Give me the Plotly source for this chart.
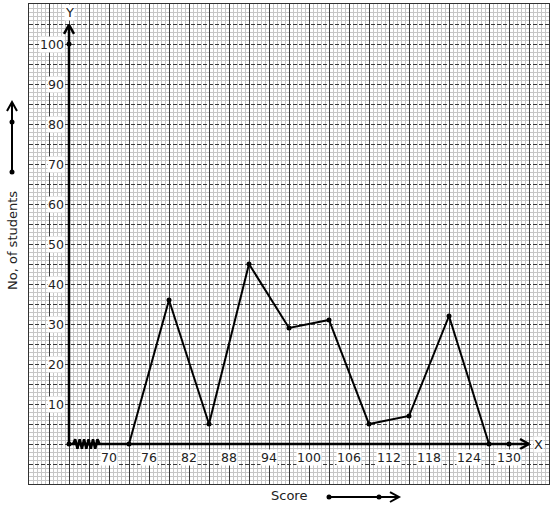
import plotly.graph_objects as go

# ---------------- data ----------------
scores = [73, 79, 85, 91, 97, 103, 109, 115, 121, 127]
students = [0, 36, 5, 45, 29, 31, 5, 7, 32, 0]
x_tick_values = [70, 76, 82, 88, 94, 100, 106, 112, 118, 124, 130]
y_tick_values = [10, 20, 30, 40, 50, 60, 70, 80, 90, 100]
axis_dot_x = [64, 64, 130]
axis_dot_y = [0, 100, 0]
x_title = "Score"
y_title = "No, of students"

# ---------------- layout constants ----------------
W, H = 554, 510
ML, MR, MT, MB = 29, 5, 4, 26
PW, PH = W - ML - MR, H - MT - MB
X_RANGE = [58, 136]
Y_RANGE = [-10, 110]
ORIGIN_X, ORIGIN_Y = 64, 0
FONT = "DejaVu Sans"
DX = (X_RANGE[1] - X_RANGE[0]) / PW   # data units per pixel
DY = (Y_RANGE[1] - Y_RANGE[0]) / PH
X_TIP, Y_TIP = 133.0, 104.8
ARM_L, ARM_W = 9, 5   # chevron length / half width in px


def px_to_paper(px, py):
    return (px - ML) / PW, (H - MB - py) / PH


fig = go.Figure()

# axes with chevron heads
fig.add_trace(go.Scatter(
    x=[ORIGIN_X, X_TIP, None, X_TIP - ARM_L * DX, X_TIP, X_TIP - ARM_L * DX],
    y=[ORIGIN_Y, ORIGIN_Y, None, ORIGIN_Y + ARM_W * DY, ORIGIN_Y, ORIGIN_Y - ARM_W * DY],
    mode="lines", line=dict(color="black", width=2.5), hoverinfo="skip"))
fig.add_trace(go.Scatter(
    x=[ORIGIN_X, ORIGIN_X, None, ORIGIN_X - ARM_W * DX, ORIGIN_X, ORIGIN_X + ARM_W * DX],
    y=[ORIGIN_Y, Y_TIP, None, Y_TIP - ARM_L * DY, Y_TIP, Y_TIP - ARM_L * DY],
    mode="lines", line=dict(color="black", width=2.5), hoverinfo="skip"))

# broken-axis zigzag on the x axis
zz_start, zz_end, zz_n, zz_amp = 64.6, 68.6, 12, 1.2
zz_x = [zz_start + (zz_end - zz_start) * i / zz_n for i in range(zz_n + 1)]
zz_y = [0 if i in (0, zz_n) else (zz_amp if i % 2 else -zz_amp) for i in range(zz_n + 1)]
fig.add_trace(go.Scatter(x=zz_x, y=zz_y, mode="lines",
                         line=dict(color="black", width=2.5), hoverinfo="skip"))

# frequency polygon
fig.add_trace(go.Scatter(x=scores, y=students, mode="lines+markers",
                         line=dict(color="black", width=2),
                         marker=dict(color="black", size=5)))

# dots on axes
fig.add_trace(go.Scatter(x=axis_dot_x, y=axis_dot_y, mode="markers",
                         marker=dict(color="black", size=5), hoverinfo="skip"))

annotations = []
annotations.append(dict(x=134.4, y=ORIGIN_Y, xref="x", yref="y", text="X",
                        showarrow=False, bgcolor="white", borderpad=0,
                        font=dict(family=FONT, size=13, color="#222")))
annotations.append(dict(x=ORIGIN_X, y=108, xref="x", yref="y", text="Y",
                        showarrow=False, bgcolor="white", borderpad=0,
                        font=dict(family=FONT, size=13, color="#222")))

# tick labels
for v in y_tick_values:
    annotations.append(dict(x=ORIGIN_X, y=v, xref="x", yref="y", text=str(v),
                            xanchor="right", yanchor="middle", xshift=-4,
                            showarrow=False, bgcolor="white", borderpad=0,
                            font=dict(family=FONT, size=12.5, color="#222")))
for v in x_tick_values:
    annotations.append(dict(x=v, y=ORIGIN_Y, xref="x", yref="y", text=str(v),
                            xanchor="center", yanchor="middle", yshift=-13,
                            showarrow=False, bgcolor="white", borderpad=0,
                            font=dict(family=FONT, size=12.5, color="#222")))

# titles
sx, sy = px_to_paper(289, 496)
annotations.append(dict(x=sx, y=sy, xref="paper", yref="paper", text=x_title,
                        xanchor="center", yanchor="middle", showarrow=False,
                        font=dict(family=FONT, size=13, color="#222")))
tx, ty = px_to_paper(12, 241)
annotations.append(dict(x=tx, y=ty, xref="paper", yref="paper", text=y_title,
                        xanchor="center", yanchor="middle", textangle=-90,
                        showarrow=False, font=dict(family=FONT, size=13, color="#222")))

shapes = []


def ppath(points):
    parts = []
    for i, (px, py) in enumerate(points):
        x, y = px_to_paper(px, py)
        parts.append(("M" if i == 0 else "L") + f"{x:.5f},{y:.5f}")
    return " ".join(parts)


# outer direction arrows
for pts in ([(12, 172), (12, 102)], [(7, 111), (12, 102), (17, 111)],
            [(329, 497), (398, 497)], [(390, 492), (399, 497), (390, 502)]):
    shapes.append(dict(type="path", xref="paper", yref="paper", path=ppath(pts),
                       line=dict(color="black", width=2)))
for (px, py) in [(12, 172), (12, 122), (329, 497), (379, 497)]:
    cx, cy = px_to_paper(px, py)
    shapes.append(dict(type="circle", xref="paper", yref="paper",
                       xsizemode="pixel", ysizemode="pixel",
                       xanchor=cx, yanchor=cy, x0=-2.5, x1=2.5, y0=-2.5, y1=2.5,
                       fillcolor="black", line=dict(color="black", width=0)))

fig.update_layout(
    width=W, height=H,
    margin=dict(l=ML, r=MR, t=MT, b=MB, pad=0),
    plot_bgcolor="white", paper_bgcolor="white",
    showlegend=False,
    annotations=annotations,
    shapes=shapes,
    xaxis=dict(range=X_RANGE, tick0=ORIGIN_X, dtick=3, showticklabels=False,
               ticks="", zeroline=False, showgrid=True, gridcolor="#3a3a3a",
               gridwidth=1, griddash="solid", showline=True, linecolor="#333333",
               linewidth=1, mirror=True, fixedrange=True,
               minor=dict(tick0=ORIGIN_X, dtick=0.6, showgrid=True, griddash="solid",
                          gridcolor="#c6c6c6", gridwidth=1, ticks="")),
    yaxis=dict(range=Y_RANGE, tick0=0, dtick=5, showticklabels=False,
               ticks="", zeroline=False, showgrid=True, gridcolor="#3a3a3a",
               gridwidth=1, griddash="4px,2px", showline=True,
               linecolor="#333333", linewidth=1, mirror=True, fixedrange=True,
               minor=dict(tick0=0, dtick=1, showgrid=True, griddash="solid",
                          gridcolor="#c6c6c6", gridwidth=1, ticks="")),
)

fig.write_html("out.html", config={"displayModeBar": False},
               post_script="document.body.style.margin='0';")
